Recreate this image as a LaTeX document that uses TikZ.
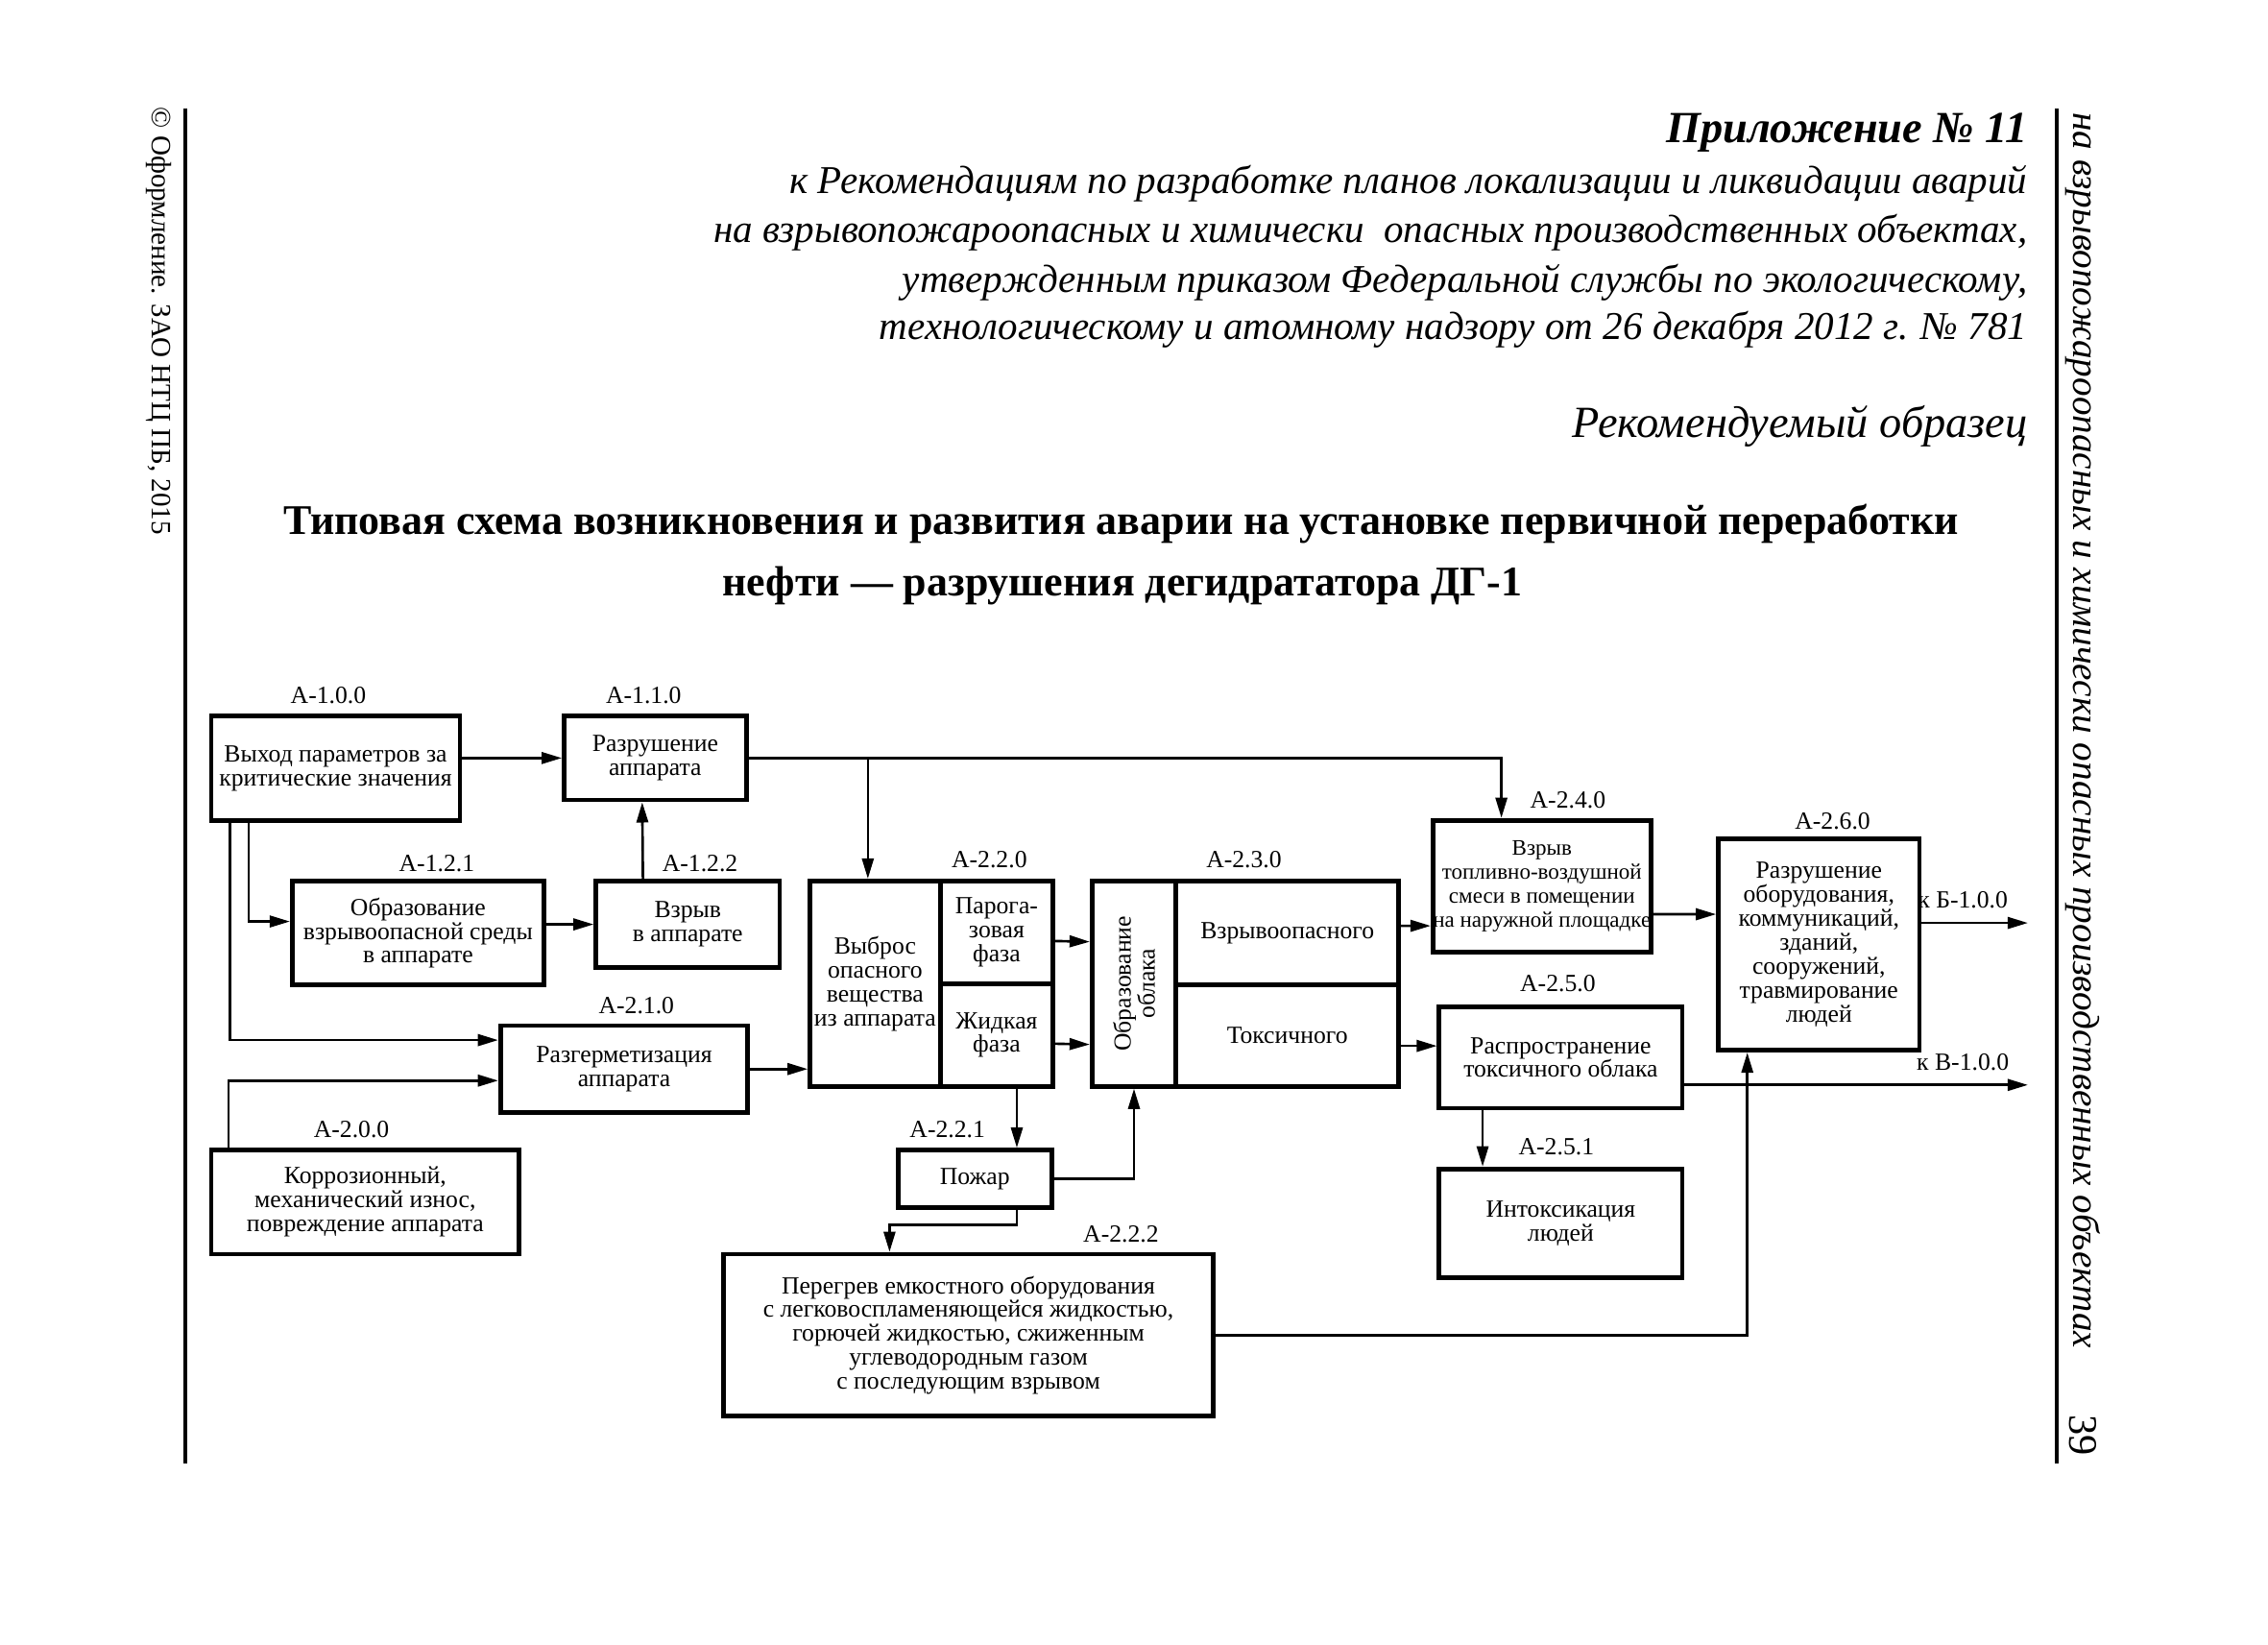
\documentclass[tikz,border=0pt]{standalone}
\usepackage{fontspec}
\setmainfont{Liberation Serif}
\usetikzlibrary{arrows.meta,calc}
\begin{document}
\begin{tikzpicture}[x=0.2mm,y=-0.2mm,
  box/.style={draw,line width=1.8pt,inner sep=0pt,align=center,font=\fontsize{9.7}{9.4}\selectfont},
  arr/.style={line width=1pt,-{Triangle[length=2.8mm,width=1.6mm]}},
  lbl/.style={font=\fontsize{9.7}{11}\selectfont,inner sep=0pt},
  hdr/.style={font=\fontsize{15.5}{18}\selectfont\itshape,anchor=east,inner sep=0pt},
  ttl/.style={font=\fontsize{16.6}{19}\selectfont\bfseries,inner sep=0pt},
  margin/.style={line width=1.3pt}]
\fill[white] (0,0) rectangle (1568,1137);
\useasboundingbox (0,0) rectangle (1568,1137);

% margins
\draw[margin] (128,75) -- (128,1012);
\draw[margin] (1422,75) -- (1422,1012);
\node[rotate=-90,font=\fontsize{11}{12}\selectfont,inner sep=0pt] (copy) at (110,222) {© Оформление. ЗАО НТЦ ПБ, 2015};
\node[rotate=-90,font=\fontsize{14.8}{17}\selectfont\itshape,inner sep=0pt] (side) at (1440,505) {на взрывопожароопасных и химически опасных производственных объектах};
\node[rotate=-90,font=\fontsize{16}{17}\selectfont,inner sep=0pt] (page) at (1440,992) {39};

% header
\node[hdr,font=\fontsize{17.5}{19}\selectfont\bfseries\itshape] (h1) at (1402,92) {Приложение № 11};
\node[hdr] (h2) at (1402,127) {к Рекомендациям по разработке планов локализации и ликвидации аварий};
\node[hdr] (h3) at (1402,161) {на взрывопожароопасных и химически \ опасных производственных объектах,};
\node[hdr] (h4) at (1402,195) {утвержденным приказом Федеральной службы по экологическому,};
\node[hdr] (h5) at (1402,228) {технологическому и атомному надзору от 26 декабря 2012 г. № 781};
\node[hdr,font=\fontsize{17.5}{19}\selectfont\itshape] (h6) at (1402,295) {Рекомендуемый образец};
\node[ttl] (t1) at (775,362) {Типовая схема возникновения и развития аварии на установке первичной переработки};
\node[ttl] (t2) at (776,405) {нефти — разрушения дегидрататора ДГ-1};

% boxes
\node[box,minimum width=34.4mm,minimum height=14.4mm] (b100) at (232,531) {Выход параметров за\\критические значения};
\node[box,minimum width=25.2mm,minimum height=11.6mm] (b110) at (453,524) {Разрушение\\аппарата};
\node[box,minimum width=34.8mm,minimum height=14.4mm] (b121) at (289,645) {Образование\\взрывоопасной среды\\в аппарате};
\node[box,minimum width=25.4mm,minimum height=12mm] (b122) at (475.5,639) {Взрыв\\в аппарате};
\node[box,minimum width=34.2mm,minimum height=12mm] (b210) at (431.5,739) {Разгерметизация\\аппарата};
\node[box,minimum width=42.6mm,minimum height=14.4mm] (b200) at (252.5,831) {Коррозионный,\\механический износ,\\повреждение аппарата};
\node[box,minimum width=18mm,minimum height=28.4mm] (b220L) at (605,680) {Выброс\\опасного\\вещества\\из аппарата};
\node[box,minimum width=15.6mm,minimum height=14.2mm] (b220T) at (689,644.5) {Парога-\\зовая\\фаза};
\node[box,minimum width=15.6mm,minimum height=14.2mm] (b220B) at (689,715.5) {Жидкая\\фаза};
\node[box,minimum width=11.6mm,minimum height=28.4mm] (b230L) at (784,680) {};
\node[rotate=90,align=center,inner sep=0pt,font=\fontsize{9.7}{9.4}\selectfont] (b230Lt) at (b230L.center) {Образование\\облака};
\node[box,minimum width=30.8mm,minimum height=14.4mm] (b230T) at (890,645) {Взрывоопасного};
\node[box,minimum width=30.8mm,minimum height=14mm] (b230B) at (890,716) {Токсичного};
\node[box,minimum width=29.6mm,minimum height=18.2mm,font=\fontsize{8.7}{9.4}\selectfont] (b240) at (1066,612.5) {Взрыв\\топливно-воздушной\\смеси в помещении\\на наружной площадке};
\node[box,minimum width=33.6mm,minimum height=14mm] (b250) at (1079,731) {Распространение\\токсичного облака};
\node[box,minimum width=33.6mm,minimum height=15mm] (b251) at (1079,845.5) {Интоксикация\\людей};
\node[box,minimum width=27.8mm,minimum height=29.2mm] (b260) at (1257.5,653) {Разрушение\\оборудования,\\коммуникаций,\\зданий,\\сооружений,\\травмирование\\людей};
\node[box,minimum width=21.2mm,minimum height=8mm] (b221) at (674,815) {Пожар};
\node[box,minimum width=67.8mm,minimum height=22.4mm] (b222) at (669.5,923) {Перегрев емкостного оборудования\\с легковоспламеняющейся жидкостью,\\горючей жидкостью, сжиженным\\углеводородным газом\\с последующим взрывом};

% labels
\node[lbl] (l100) at (227,481) {А-1.0.0};
\node[lbl] (l110) at (445,481) {А-1.1.0};
\node[lbl] (l121) at (302,597) {А-1.2.1};
\node[lbl] (l122) at (484,597) {А-1.2.2};
\node[lbl] (l210) at (440,695) {А-2.1.0};
\node[lbl] (l200) at (243,781) {А-2.0.0};
\node[lbl] (l220) at (684,594) {А-2.2.0};
\node[lbl] (l230) at (860,594) {А-2.3.0};
\node[lbl] (l240) at (1084,553) {А-2.4.0};
\node[lbl] (l260) at (1267,568) {А-2.6.0};
\node[lbl] (l250) at (1077,680) {А-2.5.0};
\node[lbl] (l251) at (1076,793) {А-2.5.1};
\node[lbl] (l221) at (655,781) {А-2.2.1};
\node[lbl] (l222) at (775,853) {А-2.2.2};
\node[lbl] (kB) at (1357,622) {к Б-1.0.0};
\node[lbl] (kV) at (1357,734) {к В-1.0.0};
\coordinate (outB) at (1402,638);
\coordinate (outV) at (1402,750);
\coordinate (j1) at (600,524);

% connectors
\draw[arr] (b100.east |- b110.west) -- (b110.west);
\draw[arr] (b110.east) -| ($(b240.north)+(-28,0)$);
\draw[arr] (j1) -- ($(b220L.north)+(-5,0)$);
\draw[arr] ($(b100.south)+(-60,0)$) |- ($(b121.west)+(0,-8)$);
\draw[arr] ($(b100.south)+(-73,0)$) |- ($(b210.west)+(0,-20)$);
\draw[arr] ($(b200.north)+(-94.5,0)$) |- ($(b210.west)+(0,8)$);
\draw[arr] (b121.east |- b122.west) -- (b122.west);
\draw[arr] ($(b122.north)+(-31,0)$) -- ($(b110.south)+(-9,0)$);
\draw[arr] (b210.east) -- (b210.east -| b220L.west);
\draw[arr] ($(b220T.east)+(0,6)$) -- ($(b230L.west)+(0,-29)$);
\draw[arr] ($(b220B.east)+(0,6)$) -- ($(b230L.west)+(0,42)$);
\draw[arr] ($(b230T.east)+(0,-5)$) -- ($(b240.west)+(0,27.5)$);
\draw[arr] ($(b230B.east)+(0,7)$) -- ($(b250.west)+(0,-8)$);
\draw[arr] ($(b240.east)+(0,19.5)$) -- ($(b260.west)+(0,-21)$);
\draw[arr] ($(b260.east)+(0,-15)$) -- (outB);
\draw[arr] ($(b250.east)+(0,19)$) -- (outV);
\draw[arr] ($(b250.south)+(-54,0)$) -- ($(b251.north)+(-54,0)$);
\draw[arr] ($(b220B.south)+(14,0)$) -- ($(b221.north)+(29,0)$);
\draw[arr] (b221.east) -| (b230L.south);
\draw[arr] ($(b221.south)+(29,0)$) -- ++(0,10) -| ($(b222.north)+(-54.5,0)$);
\draw[arr] (b222.east) -| ($(b260.south)+(-49.5,0)$);
\end{tikzpicture}
\end{document}
